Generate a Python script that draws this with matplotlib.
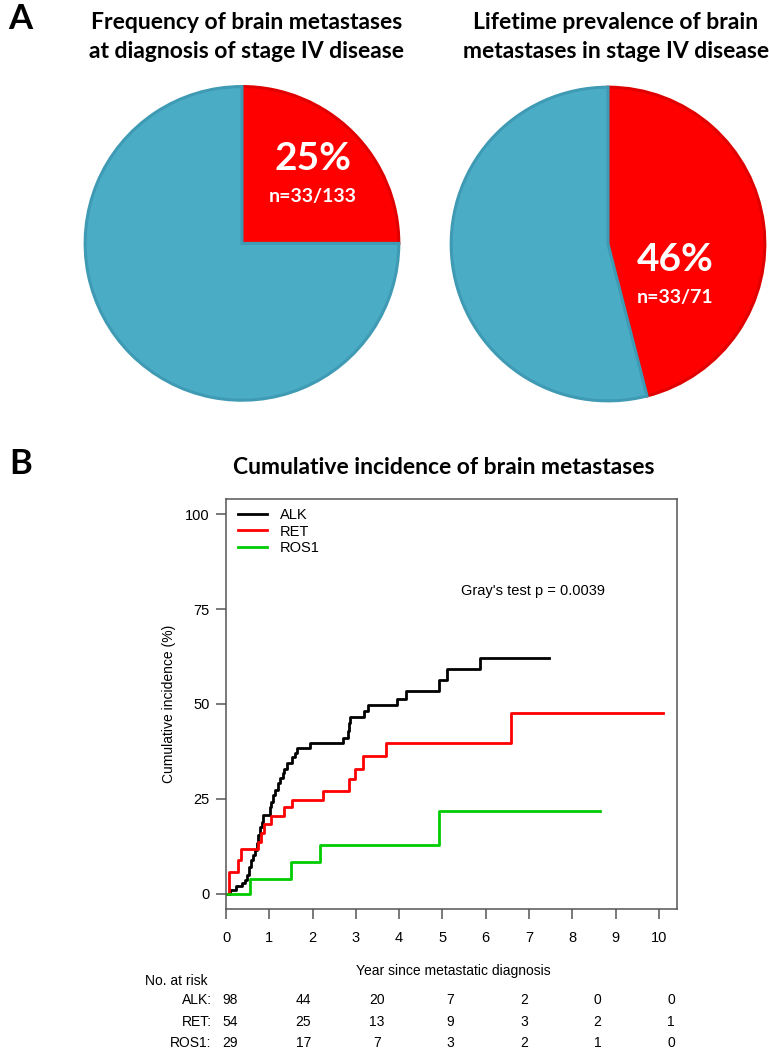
import numpy as np
import matplotlib.pyplot as plt
from matplotlib.transforms import blended_transform_factory
from matplotlib.lines import Line2D

# ---- panel A data ----
pie_left = [25, 75]
pie_right = [46, 54]
pie_left_pct = "25%"
pie_left_n = "n=33/133"
pie_right_pct = "46%"
pie_right_n = "n=33/71"

# ---- panel B data ----
alk_t = [0, 0.09, 0.23, 0.36, 0.44, 0.49, 0.54, 0.57, 0.62, 0.67, 0.71, 0.75,
         0.79, 0.82, 0.86, 1.02, 1.05, 1.09, 1.13, 1.19, 1.25, 1.31, 1.33,
         1.42, 1.52, 1.60, 1.65, 1.93, 2.70, 2.81, 2.83, 2.87, 3.19, 3.28,
         3.96, 4.16, 4.93, 5.10, 5.86, 7.47]
alk_v = [0, 1.1, 2.0, 2.9, 3.6, 4.9, 7.1, 8.9, 10.2, 11.5, 13.3, 15.5,
         17.7, 19.0, 20.7, 22.9, 24.2, 26.0, 27.3, 29.1, 30.4, 31.7, 33.0,
         34.4, 36.0, 37.2, 38.4, 39.6, 41.0, 43.0, 45.0, 46.7, 48.1, 49.7,
         51.3, 53.4, 56.2, 59.1, 62.0, 62.0]

ret_t = [0, 0.07, 0.28, 0.35, 0.75, 0.80, 0.87, 1.03, 1.33, 1.52, 2.23,
         2.83, 2.98, 3.17, 3.70, 6.58, 10.10]
ret_v = [0, 5.8, 8.8, 11.7, 13.7, 15.9, 18.5, 20.5, 22.8, 24.8, 27.2,
         30.3, 33.0, 36.3, 39.6, 47.7, 47.7]

ros_t = [0, 0.56, 1.50, 2.17, 4.93, 8.65]
ros_v = [0, 4.0, 8.3, 12.8, 21.8, 21.8]

groups = ["ALK", "RET", "ROS1"]
risk_alk = [98, 44, 20, 7, 2, 0, 0]
risk_ret = [54, 25, 13, 9, 3, 2, 1]
risk_ros = [29, 17, 7, 3, 2, 1, 0]

RED = "#FF0000"
BLUE = "#4BACC6"
title_font = "Lato"

fig = plt.figure(figsize=(7.69, 10.5), dpi=100)

# ---- Panel A ----
def draw_pie(rect, vals, pct, n, pct_xy, n_xy):
    ax = fig.add_axes(rect)
    wedges, _ = ax.pie(vals, colors=[RED, BLUE], startangle=90, counterclock=False,
                       wedgeprops=dict(linewidth=2.2))
    wedges[0].set_edgecolor("#E00000")
    wedges[1].set_edgecolor("#3F9AB4")
    ax.set_xlim(-1.02, 1.02)
    ax.set_ylim(-1.02, 1.02)
    ax.set_aspect("equal")
    ax.axis("off")
    ax.text(*pct_xy, pct, color="white", fontsize=28, fontweight="bold",
            family=title_font, ha="center", va="center")
    ax.text(*n_xy, n, color="white", fontsize=14, fontweight="bold",
            family=title_font, ha="center", va="center")

draw_pie([0.1066, 0.6158, 0.4161, 0.3048], pie_left, pie_left_pct, pie_left_n,
         (0.45, 0.54), (0.45, 0.30))
draw_pie([0.5826, 0.6152, 0.4161, 0.3048], pie_right, pie_right_pct, pie_right_n,
         (0.43, -0.10), (0.43, -0.34))

fig.text(0.010, 0.982, "A", fontsize=25, fontweight="bold", family=title_font,
         va="center", ha="left")
fig.text(0.012, 0.558, "B", fontsize=25, fontweight="bold", family=title_font,
         va="center", ha="left")
fig.text(0.321, 0.965, "Frequency of brain metastases\nat diagnosis of stage IV disease",
         fontsize=16.5, fontweight="bold", family=title_font, ha="center", va="center",
         linespacing=1.45)
fig.text(0.801, 0.965, "Lifetime prevalence of brain\nmetastases in stage IV disease",
         fontsize=16.5, fontweight="bold", family=title_font, ha="center", va="center",
         linespacing=1.45)
fig.text(0.577, 0.555, "Cumulative incidence of brain metastases",
         fontsize=16.5, fontweight="bold", family=title_font, ha="center", va="center")

# ---- Panel B ----
ax = fig.add_axes([0.2939, 0.1343, 0.5865, 0.3905])
ax.step(alk_t, alk_v, where="post", color="black", lw=2)
ax.step(ret_t, ret_v, where="post", color=RED, lw=2)
ax.step(ros_t, ros_v, where="post", color="#00CC00", lw=2)

ax.set_xlim(0, 10.42)
ax.set_ylim(-4, 104)
ax.set_xticks(range(0, 11))
ax.set_yticks([0, 25, 50, 75, 100])
for s in ax.spines.values():
    s.set_color("#555555")
    s.set_linewidth(1.1)
ax.tick_params(direction="out", length=7, width=1.1, color="#555555",
               labelsize=10.5, pad=5)
ax.tick_params(axis="x", pad=9)
for lab in ax.get_xticklabels() + ax.get_yticklabels():
    lab.set_family("Liberation Sans")
ax.set_ylabel("Cumulative incidence (%)", fontsize=10, family="Liberation Sans",
              labelpad=6)

handles = [Line2D([], [], color=c, lw=2) for c in ["black", RED, "#00CC00"]]
ax.legend(handles, groups, loc="upper left", bbox_to_anchor=(0.026, 0.977),
          frameon=False, handlelength=2.0, handletextpad=0.9,
          labelspacing=0.15, borderpad=0, borderaxespad=0,
          prop={"family": "Liberation Sans", "size": 10.5})
ax.text(0.68, 0.775, "Gray's test p = 0.0039", transform=ax.transAxes,
        fontsize=10.5, family="Liberation Sans", ha="center", va="center")

fig.text(0.590, 0.075, "Year since metastatic diagnosis", fontsize=10,
         family="Liberation Sans", ha="center", va="center")

# number at risk table
narrow = ["Liberation Sans Narrow", "Liberation Sans"]
tr = blended_transform_factory(ax.transData, fig.transFigure)
fig.text(0.189, 0.066, "No. at risk", fontsize=10, family=narrow,
         ha="left", va="center")
cols = np.linspace(0.09, 10.28, 7)
row_y = [0.0476, 0.0267, 0.0062]
for g, counts, yy in zip(groups, [risk_alk, risk_ret, risk_ros], row_y):
    fig.text(0.275, yy, g + ":", fontsize=10, family=narrow, ha="right", va="center")
    for cx, c in zip(cols, counts):
        ax.text(cx, yy, str(c), transform=tr, fontsize=10, family=narrow,
                ha="center", va="center")

fig.savefig("out.png", dpi=100)
